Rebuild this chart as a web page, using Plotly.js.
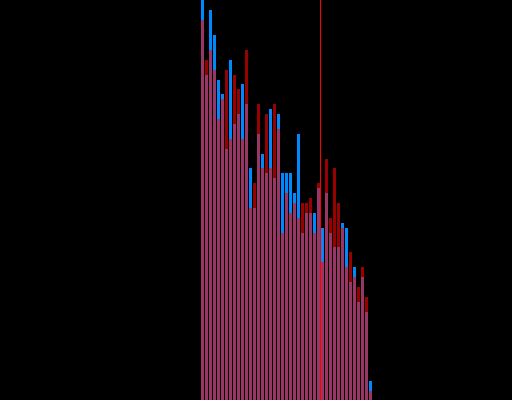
<!DOCTYPE html>
<html>
<head>
<meta charset="utf-8">
<script src="https://cdn.plot.ly/plotly-3.0.1.min.js"></script>
<style>html,body{margin:0;padding:0;background:#000;}#chart{width:512px;height:400px;}</style>
</head>
<body>
<div id="chart"></div>
<script>
// Bin index (category position)
const bins = Array.from({length: 43}, (_, i) => i);
// Series A (blue)
const seriesA = [100, 81.25, 97.5, 91.25, 80, 76.5, 62.75, 85, 69, 71.5, 79, 74, 58, 48, 66.5, 61.5, 56.75, 72.75, 55.5, 71.5, 56.75, 56.75, 56.75, 51.75, 66.5, 41.75, 46.75, 46.75, 46.75, 53, 43, 51.75, 41.75, 38.25, 38.25, 44.25, 43, 29.5, 33.25, 24.5, 30.75, 22, 4.75];
// Series B (red)
const seriesB = [95, 85, 87.5, 82.5, 70.25, 75.25, 82.5, 65.25, 81.25, 77.75, 65.25, 87.5, 48, 54.25, 74, 58, 71.5, 58, 74, 67.75, 41.75, 51.75, 46.75, 49.25, 45.5, 49.25, 49.25, 50.5, 41.75, 54.25, 34.5, 60.25, 45.5, 58, 49.25, 43, 33.25, 37, 30.75, 28.25, 33.25, 25.75, 2.25];
// Reference line position
const refLineX = 29.5;

const traces = [
  {type: 'bar', x: bins, y: seriesA, marker: {color: '#0088ff', line: {width: 0}}, opacity: 1, showlegend: false, hoverinfo: 'skip'},
  {type: 'bar', x: bins, y: seriesB, marker: {color: '#ff0000', line: {width: 0}}, opacity: 0.6, showlegend: false, hoverinfo: 'skip'}
];

const layout = {
  width: 512, height: 400,
  margin: {l: 0, r: 0, t: 0, b: 0, pad: 0},
  paper_bgcolor: '#000000', plot_bgcolor: '#000000',
  barmode: 'overlay', bargap: 0.25,
  showlegend: false,
  xaxis: {range: [-50.625, 77.375], visible: false, showgrid: false, zeroline: false},
  yaxis: {range: [0, 100], visible: false, showgrid: false, zeroline: false},
  shapes: [{type: 'line', xref: 'x', yref: 'paper', x0: refLineX, x1: refLineX, y0: 0, y1: 1, line: {color: '#ff0000', width: 1}}]
};

Plotly.newPlot('chart', traces, layout, {staticPlot: true, displayModeBar: false});
</script>
</body>
</html>
